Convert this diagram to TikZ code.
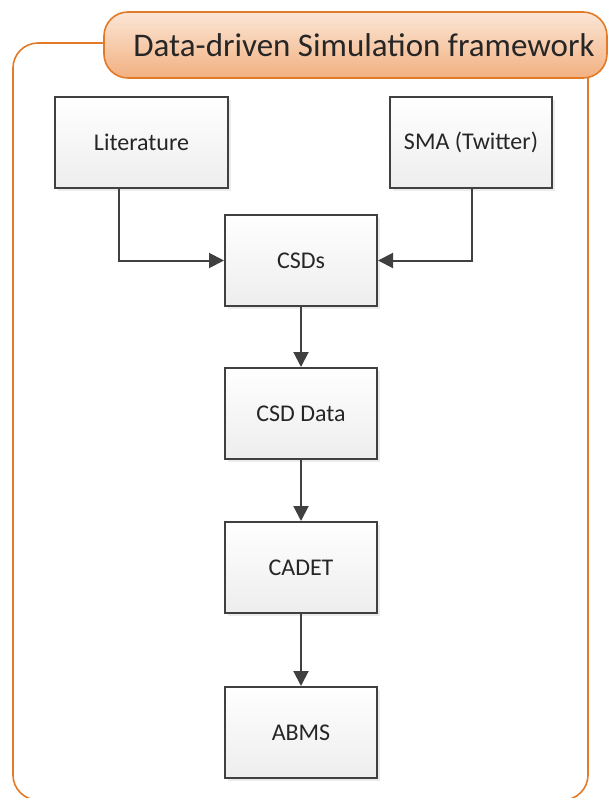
\documentclass[tikz,border=0pt]{standalone}
\usepackage{fontspec}
\setmainfont{Carlito}
\usetikzlibrary{arrows.meta,shadows,backgrounds}
\definecolor{frameor}{RGB}{226,122,40}
\definecolor{titletop}{RGB}{251,230,214}
\definecolor{titlebot}{RGB}{242,176,128}
\definecolor{boxline}{RGB}{64,64,64}
\definecolor{txt}{RGB}{38,38,38}
\tikzset{
  x=1pt,y=-1pt,
  procbox/.style={draw=boxline, line width=2pt, top color=white, bottom color=black!7,
    drop shadow={shadow xshift=3pt, shadow yshift=-3pt, fill=black!15},
    text=txt, font=\fontsize{24}{28}\selectfont, inner sep=0pt},
  conn/.style={draw=boxline, line width=2pt, -{Triangle[length=15pt,width=15pt]}},
}
\begin{document}
\begin{tikzpicture}
\useasboundingbox (0,0) rectangle (609,798);
\node[draw=frameor, line width=1.6pt, rounded corners=24pt, top color=titletop, bottom color=titlebot,
      minimum width=503pt, minimum height=66pt, text=txt, font=\fontsize{33}{38}\selectfont,
      inner sep=0pt] (title) at (355.5,45) {\hspace*{17pt}Data-driven Simulation framework};
\coordinate (tl) at (140,43);
\coordinate (tb) at (588,60);
\begin{pgfonlayer}{background}
\draw[frameor, line width=1.6pt] (tl) -- (38,43) .. controls (24.2,43) and (13,54.2) .. (13,68)
  -- (13,775) .. controls (13,788.8) and (24.2,800) .. (38,800)
  -- (563,800) .. controls (576.8,800) and (588,788.8) .. (588,775) -- (tb);
\end{pgfonlayer}
\node[procbox, minimum width=173pt, minimum height=91pt] (lit) at (141.5,142.5) {Literature};
\node[procbox, minimum width=162pt, minimum height=91pt] (sma) at (471,142.5) {SMA (Twitter)};
\node[procbox, minimum width=152pt, minimum height=91pt] (csd) at (301,260.5) {CSDs};
\node[procbox, minimum width=152pt, minimum height=91pt] (csdd) at (301,413.5) {CSD Data};
\node[procbox, minimum width=152pt, minimum height=91pt] (cadet) at (301,567.5) {CADET};
\node[procbox, minimum width=152pt, minimum height=91pt] (abms) at (301,732.5) {ABMS};
\draw[conn] ([xshift=-22.5pt]lit.south) |- (csd.west);
\draw[conn] ([xshift=1pt]sma.south) |- (csd.east);
\draw[conn] (csd) -- (csdd);
\draw[conn] (csdd) -- (cadet);
\draw[conn] (cadet) -- (abms);
\end{tikzpicture}
\end{document}
